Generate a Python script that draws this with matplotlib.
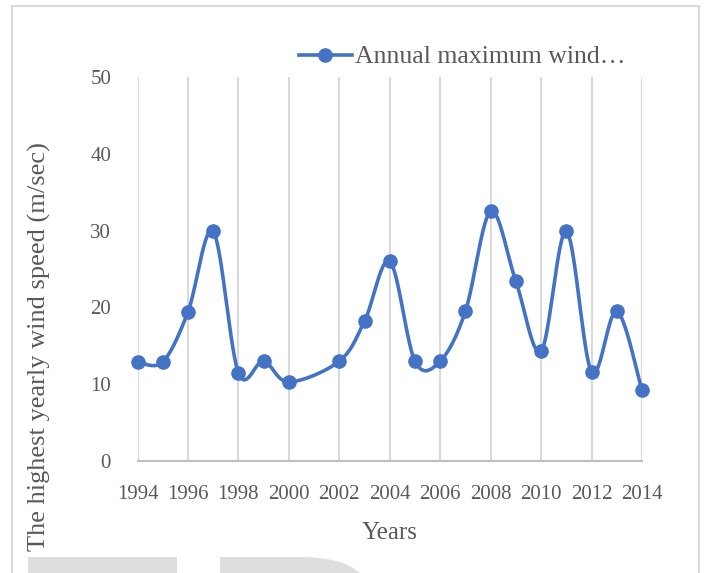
import numpy as np
import matplotlib
matplotlib.use("Agg")
import matplotlib.pyplot as plt
from matplotlib.patches import Rectangle, PathPatch
from matplotlib.path import Path
from matplotlib.lines import Line2D

# annual maximum wind speed (m/sec); no record for 2001
years = [1994, 1995, 1996, 1997, 1998, 1999, 2000, 2002, 2003, 2004,
         2005, 2006, 2007, 2008, 2009, 2010, 2011, 2012, 2013, 2014]
speeds = [12.9, 12.9, 19.4, 29.9, 11.5, 13.0, 10.3, 13.0, 18.2, 26.0,
          13.0, 13.0, 19.5, 32.5, 23.4, 14.3, 29.9, 11.6, 19.5, 9.2]
xticks = list(range(1994, 2015, 2))
yticks = [0, 10, 20, 30, 40, 50]

BLUE = "#4472C4"
TXT = "#595959"
GRID = "#d9d9d9"
W, H = 704, 573

plt.rcParams["font.family"] = ["Liberation Serif", "DejaVu Serif"]


def smooth_line(x, y, n=40):
    # bezier smoothing through every point (spreadsheet style smoothed line)
    pts = np.column_stack([x, y]).astype(float)
    P = np.vstack([pts[0], pts, pts[-1]])
    t = np.linspace(0, 1, n)[:, None]
    segs = []
    for i in range(1, len(P) - 2):
        p0, p1, p2, p3 = P[i - 1], P[i], P[i + 1], P[i + 2]
        c1 = p1 + (p2 - p0) / 6
        c2 = p2 - (p3 - p1) / 6
        segs.append((1 - t) ** 3 * p1 + 3 * (1 - t) ** 2 * t * c1
                    + 3 * (1 - t) * t ** 2 * c2 + t ** 3 * p2)
    return np.vstack(segs)


def fx(px):
    return px / W


def fy(py):
    return 1 - py / H


fig = plt.figure(figsize=(W / 100, H / 100), dpi=100)
ax = fig.add_axes([fx(137.5), fy(461), fx(642) - fx(137.5), fy(77) - fy(461)])

curve = smooth_line(years, speeds)
ax.plot(curve[:, 0], curve[:, 1], color=BLUE, lw=2.6, solid_capstyle="round",
        clip_on=False, zorder=3)
ax.plot(years, speeds, "o", color=BLUE, ms=9.5, clip_on=False, zorder=4)

ax.set_xlim(1994, 2014)
ax.set_ylim(0, 50)
ax.set_xticks(xticks)
ax.set_yticks(yticks)
ax.tick_params(length=0, labelsize=15, labelcolor=TXT)
ax.tick_params(axis="y", pad=19)
ax.tick_params(axis="x", pad=17)
ax.grid(axis="x", color=GRID, lw=1.5)
ax.set_axisbelow(True)
for s in ["top", "right", "left"]:
    ax.spines[s].set_visible(False)
ax.spines["bottom"].set_color("#bfbfbf")
ax.spines["bottom"].set_linewidth(1.5)

ax.set_xlabel("Years", fontsize=18, color=TXT, labelpad=13)
fig.text(fx(39), fy(347), "The highest yearly wind speed (m/sec)", rotation=90,
         ha="center", va="center", fontsize=19, color=TXT)

# legend
handle = Line2D([], [], color=BLUE, lw=2.6, marker="o", ms=9.5)
fig.legend([handle], ["Annual maximum wind…"], loc="center left",
           bbox_to_anchor=(fx(286), fy(57)), frameon=False, handlelength=2.05,
           handletextpad=0.15, fontsize=18.5, labelcolor=TXT, borderpad=0)

# chart frame
fig.patches.append(Rectangle((fx(12), fy(590)), fx(699) - fx(12), fy(6) - fy(590),
                             transform=fig.transFigure, fill=False,
                             edgecolor="#d9d9d9", lw=1.5))

# grey blocks along the lower edge
fig.patches.append(Rectangle((fx(28), fy(573)), fx(177) - fx(28), fy(557) - fy(573),
                             transform=fig.transFigure, color="#dedede", lw=0, zorder=0))
verts = [(fx(220), fy(575)), (fx(220), fy(557)), (fx(300), fy(557)),
         (fx(345), fy(557)), (fx(362), fy(575)), (fx(362), fy(575)),
         (fx(220), fy(575))]
codes = [Path.MOVETO, Path.LINETO, Path.LINETO, Path.CURVE3, Path.CURVE3,
         Path.LINETO, Path.CLOSEPOLY]
fig.patches.append(PathPatch(Path(verts, codes), transform=fig.transFigure,
                             color="#dedede", lw=0, zorder=0))

fig.savefig("out.png", dpi=100)
